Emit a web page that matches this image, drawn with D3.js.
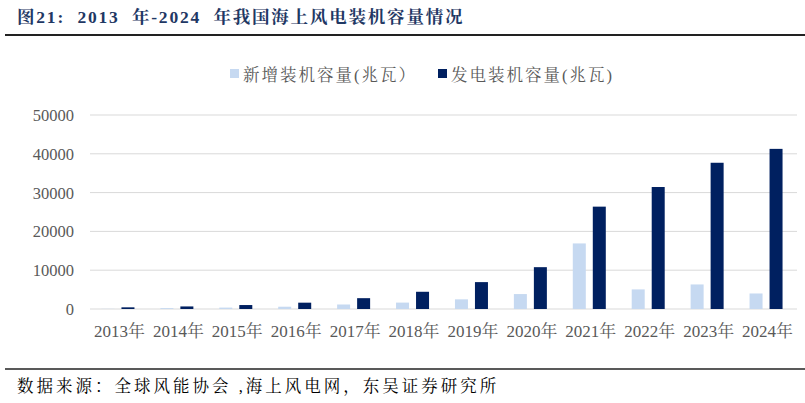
<!DOCTYPE html>
<html><head><meta charset="utf-8">
<script src="https://cdn.jsdelivr.net/npm/d3@7"></script>
<style>body{margin:0;background:#fff}</style>
</head><body>
<svg id="c" width="805" height="403"></svg>
<script>
var years = ['2013年','2014年','2015年','2016年','2017年','2018年','2019年','2020年','2021年','2022年','2023年','2024年'];
var newCap = [40, 230, 360, 590, 1160, 1650, 2490, 3850, 16900, 5050, 6330, 4000];
var totalCap = [430, 660, 1020, 1630, 2790, 4440, 6930, 10780, 26380, 31440, 37690, 41270];
var yTicks = [0, 10000, 20000, 30000, 40000, 50000];
var seriesNames = ['新增装机容量(兆瓦）', '发电装机容量(兆瓦)'];
var colors = ['#c6d9f1', '#002060'];

var svg = d3.select('#c');
var serif = '"Liberation Serif","Noto Serif CJK SC","Noto Sans CJK SC",serif';

svg.append('text').attr('x', 17).attr('y', 23).attr('fill', '#1f3864')
	.attr('font-family', serif).attr('font-weight', 'bold').attr('font-size', 17.5)
	.attr('letter-spacing', 1.8).attr('xml:space', 'preserve')
	.text('图21:  2013  年-2024  年我国海上风电装机容量情况');
svg.append('line').attr('x1', 5).attr('x2', 805).attr('y1', 35).attr('y2', 35)
	.attr('stroke', '#222').attr('stroke-width', 2);

var x = d3.scaleBand().domain(years).range([90, 797]);
var y = d3.scaleLinear().domain([0, 50000]).range([309, 115]);

svg.append('g').selectAll('line').data(yTicks).join('line')
	.attr('x1', 90).attr('x2', 797).attr('y1', function(d) { return y(d); }).attr('y2', function(d) { return y(d); })
	.attr('stroke', '#d9d9d9').attr('stroke-width', 1);

svg.append('g').selectAll('text').data(yTicks).join('text')
	.attr('x', 74).attr('y', function(d) { return y(d) + 6; }).attr('text-anchor', 'end')
	.attr('font-family', serif).attr('font-size', 16.5).attr('fill', '#595959')
	.text(function(d) { return d; });

var bw = 13;
svg.append('g').selectAll('rect').data(newCap).join('rect')
	.attr('x', function(d, i) { return x(years[i]) + x.bandwidth() / 2 - bw - 5; })
	.attr('y', function(d) { return y(d); }).attr('width', bw)
	.attr('height', function(d) { return y(0) - y(d); }).attr('fill', colors[0]);
svg.append('g').selectAll('rect').data(totalCap).join('rect')
	.attr('x', function(d, i) { return x(years[i]) + x.bandwidth() / 2 + 2; })
	.attr('y', function(d) { return y(d); }).attr('width', bw)
	.attr('height', function(d) { return y(0) - y(d); }).attr('fill', colors[1]);

svg.append('g').selectAll('text').data(years).join('text')
	.attr('x', function(d) { return x(d) + x.bandwidth() / 2; }).attr('y', 337).attr('text-anchor', 'middle')
	.attr('font-family', serif).attr('font-size', 17).attr('fill', '#595959')
	.text(function(d) { return d; });

var lx = [230, 438];
seriesNames.forEach(function(n, i) {
	svg.append('rect').attr('x', lx[i]).attr('y', 69).attr('width', 9).attr('height', 9).attr('fill', colors[i]);
	svg.append('text').attr('x', lx[i] + 13).attr('y', 81).attr('font-family', serif).attr('font-size', 16.5)
		.attr('letter-spacing', 2).attr('fill', '#595959').text(n);
});

svg.append('line').attr('x1', 5).attr('x2', 805).attr('y1', 369).attr('y2', 369)
	.attr('stroke', '#222').attr('stroke-width', 1.5);
svg.append('text').attr('x', 17).attr('y', 392).attr('font-family', serif).attr('font-size', 16.5)
	.attr('letter-spacing', 3).attr('xml:space', 'preserve').attr('fill', '#000')
	.text('数据来源：全球风能协会 ,海上风电网，东吴证券研究所');
</script>
</body></html>
